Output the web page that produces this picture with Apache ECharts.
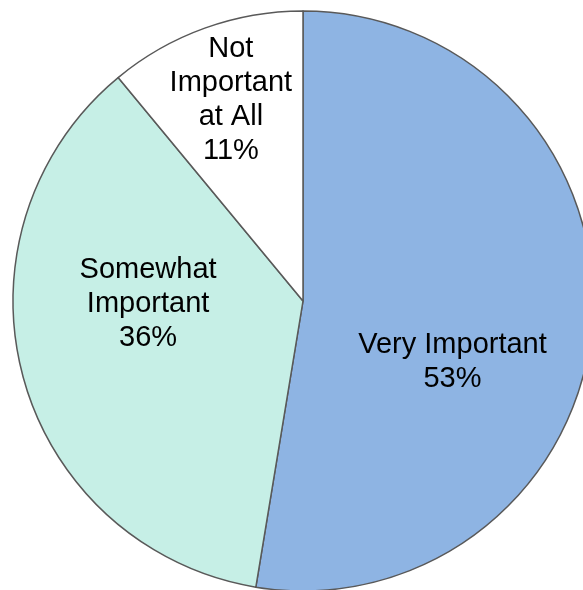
<!DOCTYPE html>
<html>
<head>
<meta charset="utf-8">
<script src="https://cdn.jsdelivr.net/npm/echarts@6/dist/echarts.min.js"></script>
<style>html,body{margin:0;padding:0;background:#fff;}#c{width:583px;height:590px;}</style>
</head>
<body>
<div id="c"></div>
<script>
var categories = ['Very Important', 'Somewhat Important', 'Not Important at All'];
var labelLines = ['Very Important', 'Somewhat\nImportant', 'Not\nImportant\nat All'];
var values = [52.6, 36.4, 11.0];
var colors = ['#8EB4E3', '#C6EFE6', '#FFFFFF'];
var labelOffsets = [[2, 49], [-12, -36], [-22, -62]];

var chart = echarts.init(document.getElementById('c'), null, {renderer: 'canvas'});
var data = categories.map(function (c, i) {
  return {
    name: c,
    value: values[i],
    itemStyle: {color: colors[i]},
    label: {offset: labelOffsets[i]}
  };
});
chart.setOption({
  animation: false,
  series: [{
    type: 'pie',
    center: [303, 301],
    radius: [0, 290],
    startAngle: 90,
    clockwise: true,
    avoidLabelOverlap: false,
    itemStyle: {borderColor: '#595959', borderWidth: 1.5},
    label: {
      show: true,
      position: 'inside',
      color: '#000',
      fontFamily: 'Liberation Sans, Arial, sans-serif',
      fontSize: 29,
      lineHeight: 34,
      formatter: function (p) {
        return labelLines[p.dataIndex] + '\n' + Math.round(p.percent) + '%';
      }
    },
    labelLine: {show: false},
    emphasis: {disabled: true},
    data: data
  }]
});
</script>
</body>
</html>
